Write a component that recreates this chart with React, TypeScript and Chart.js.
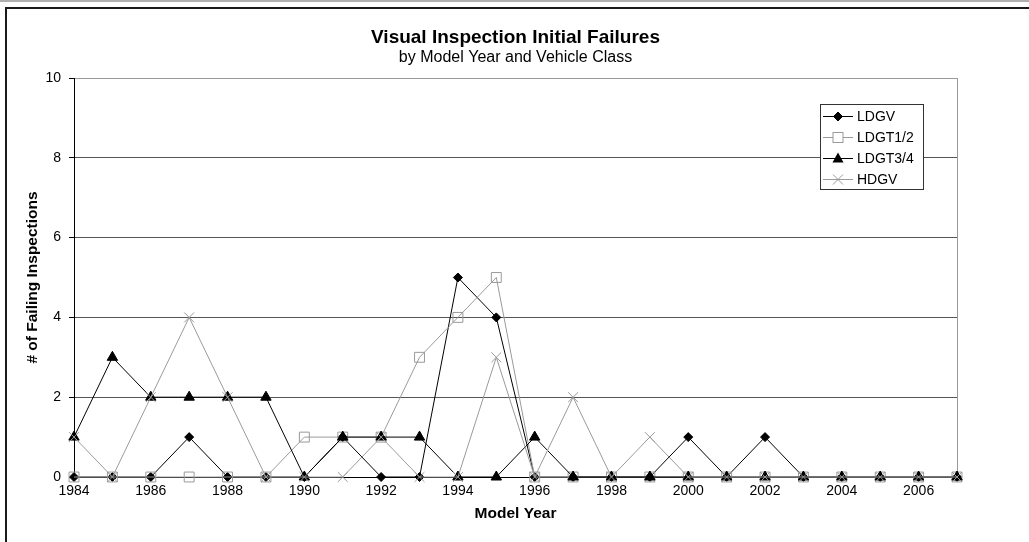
import React, { useEffect, useRef } from 'react';
import { Chart, registerables } from 'chart.js';

Chart.register(...registerables);

const years = [
  '1984', '1985', '1986', '1987', '1988', '1989', '1990', '1991', '1992', '1993', '1994', '1995',
  '1996', '1997', '1998', '1999', '2000', '2001', '2002', '2003', '2004', '2005', '2006', '2007',
];
const ldgv = [0, 0, 0, 1, 0, 0, 0, 1, 0, 0, 5, 4, 0, 0, 0, 0, 1, 0, 1, 0, 0, 0, 0, 0];
const ldgt12 = [0, 0, 0, 0, 0, 0, 1, 1, 1, 3, 4, 5, 0, 0, 0, 0, 0, 0, 0, 0, 0, 0, 0, 0];
const ldgt34 = [1, 3, 2, 2, 2, 2, 0, 1, 1, 1, 0, 0, 1, 0, 0, 0, 0, 0, 0, 0, 0, 0, 0, 0];
const hdgv = [1, 0, 2, 4, 2, 0, 0, 0, 1, 0, 0, 3, 0, 2, 0, 1, 0, 0, 0, 0, 0, 0, 0, 0];

const seriesNames = ['LDGV', 'LDGT1/2', 'LDGT3/4', 'HDGV'];
const yTicks = [0, 2, 4, 6, 8, 10];

const titleText = 'Visual Inspection Initial Failures';
const subtitleText = 'by Model Year and Vehicle Class';
const xTitle = 'Model Year';
const yTitle = '# of Failing Inspections';

const FONT = '"Liberation Sans", Arial, sans-serif';
const GRAY = '#9a9a9a';

function drawMarker(ctx: CanvasRenderingContext2D, kind: number, x: number, y: number) {
  ctx.save();
  ctx.lineWidth = 1;
  if (kind === 0) {
    ctx.fillStyle = '#000';
    ctx.beginPath();
    ctx.moveTo(x - 4.5, y);
    ctx.lineTo(x, y - 4.5);
    ctx.lineTo(x + 4.5, y);
    ctx.lineTo(x, y + 4.5);
    ctx.closePath();
    ctx.fill();
    ctx.strokeStyle = '#000';
    ctx.stroke();
  } else if (kind === 1) {
    ctx.fillStyle = '#fff';
    ctx.strokeStyle = GRAY;
    ctx.fillRect(x - 5, y - 5, 10, 10);
    ctx.strokeRect(x - 5, y - 5, 10, 10);
  } else if (kind === 2) {
    ctx.fillStyle = '#000';
    ctx.beginPath();
    ctx.moveTo(x, y - 6);
    ctx.lineTo(x + 5.5, y + 4);
    ctx.lineTo(x - 5.5, y + 4);
    ctx.closePath();
    ctx.fill();
  } else {
    ctx.strokeStyle = GRAY;
    ctx.beginPath();
    ctx.moveTo(x - 5, y - 5);
    ctx.lineTo(x + 5, y + 5);
    ctx.moveTo(x + 5, y - 5);
    ctx.lineTo(x - 5, y + 5);
    ctx.stroke();
  }
  ctx.restore();
}

const rightBorderPlugin = {
  id: 'rightBorder',
  beforeDatasetsDraw(chart: any) {
    const ctx: CanvasRenderingContext2D = chart.ctx;
    const area = chart.chartArea;
    ctx.save();
    ctx.strokeStyle = GRAY;
    ctx.lineWidth = 1;
    ctx.beginPath();
    ctx.moveTo(Math.round(area.right) + 0.5, area.top);
    ctx.lineTo(Math.round(area.right) + 0.5, area.bottom);
    ctx.stroke();
    ctx.restore();
  },
};

const decorPlugin = {
  id: 'decor',
  afterDraw(chart: any) {
    const ctx: CanvasRenderingContext2D = chart.ctx;
    const area = chart.chartArea;
    ctx.save();
    // titles
    const cx = (area.left + area.right) / 2;
    ctx.fillStyle = '#000';
    ctx.textAlign = 'center';
    ctx.textBaseline = 'middle';
    ctx.font = `bold 19px ${FONT}`;
    ctx.fillText(titleText, cx, 38);
    ctx.font = `16px ${FONT}`;
    ctx.fillText(subtitleText, cx, 58);

    // legend
    const bx = 820, by = 104, bw = 103, bh = 85;
    ctx.fillStyle = '#fff';
    ctx.fillRect(bx, by, bw, bh);
    ctx.strokeStyle = '#333';
    ctx.strokeRect(bx + 0.5, by + 0.5, bw, bh);
    const rows = [116, 137, 158, 179];
    const colors = ['#000', GRAY, '#000', GRAY];
    ctx.font = `14px ${FONT}`;
    ctx.textAlign = 'left';
    for (let i = 0; i < 4; i++) {
      const y = rows[i];
      ctx.strokeStyle = colors[i];
      ctx.beginPath();
      ctx.moveTo(823, y + 0.5);
      ctx.lineTo(853, y + 0.5);
      ctx.stroke();
      drawMarker(ctx, i, 838, y + 0.5);
      ctx.fillStyle = '#000';
      ctx.fillText(seriesNames[i], 857, y + 1);
    }
    ctx.restore();
  },
};

export default function App() {
  const canvasRef = useRef<HTMLCanvasElement | null>(null);

  useEffect(() => {
    const canvas = canvasRef.current;
    if (!canvas) return;
    const chart = new Chart(canvas, {
      type: 'line',
      data: {
        labels: years,
        datasets: [
          {
            label: seriesNames[0],
            data: ldgv,
            borderColor: '#000',
            backgroundColor: '#000',
            borderWidth: 1,
            pointStyle: 'rectRot',
            pointRadius: 4.5,
            pointBorderWidth: 1,
            pointBorderColor: '#000',
            pointBackgroundColor: '#000',
            clip: false,
            order: 4,
          },
          {
            label: seriesNames[1],
            data: ldgt12,
            borderColor: GRAY,
            backgroundColor: 'rgba(0,0,0,0)',
            borderWidth: 1,
            pointStyle: 'rect',
            pointRadius: 7,
            pointBorderWidth: 1,
            pointBorderColor: GRAY,
            pointBackgroundColor: 'rgba(0,0,0,0)',
            clip: false,
            order: 3,
          },
          {
            label: seriesNames[2],
            data: ldgt34,
            borderColor: '#000',
            backgroundColor: '#000',
            borderWidth: 1,
            pointStyle: 'triangle',
            pointRadius: 6,
            pointBorderWidth: 1,
            pointBorderColor: '#000',
            pointBackgroundColor: '#000',
            clip: false,
            order: 2,
          },
          {
            label: seriesNames[3],
            data: hdgv,
            borderColor: GRAY,
            backgroundColor: GRAY,
            borderWidth: 1,
            pointStyle: 'crossRot',
            pointRadius: 7,
            pointBorderWidth: 1,
            pointBorderColor: GRAY,
            clip: false,
            order: 1,
          },
        ],
      },
      options: {
        animation: false,
        responsive: false,
        maintainAspectRatio: false,
        layout: { padding: { left: 19, right: 72, top: 78, bottom: 15 } },
        plugins: {
          legend: { display: false },
          title: { display: false },
          tooltip: { enabled: false },
        },
        elements: { line: { tension: 0 } },
        scales: {
          x: {
            type: 'category',
            offset: false,
            grid: { display: false, drawTicks: false },
            border: { display: true, color: '#000', width: 1 },
            ticks: {
              autoSkip: false,
              maxRotation: 0,
              minRotation: 0,
              padding: 6,
              color: '#000',
              font: { family: FONT, size: 14 },
              callback: (_v: any, i: number) => (i % 2 === 0 ? years[i] : ''),
            },
            title: {
              display: true,
              text: xTitle,
              color: '#000',
              font: { family: FONT, size: 15.5, weight: 'bold' },
              padding: { top: 4, bottom: 4 },
            },
            afterFit: (s: any) => {
              s.height = 50;
            },
          },
          y: {
            min: 0,
            max: 10,
            afterBuildTicks: (s: any) => {
              s.ticks = yTicks.map((v) => ({ value: v }));
            },
            grid: {
              color: (c: any) => (c.tick && c.tick.value === 10 ? GRAY : c.tick && c.tick.value === 0 ? 'rgba(0,0,0,0)' : '#555'),
              tickColor: '#000',
              tickLength: 5,
              drawTicks: true,
            },
            border: { display: true, color: '#000', width: 1 },
            ticks: {
              padding: 8,
              color: '#000',
              font: { family: FONT, size: 14 },
            },
            title: {
              display: true,
              text: yTitle,
              color: '#000',
              font: { family: FONT, size: 15.5, weight: 'bold' },
              padding: { top: 4, bottom: 4 },
            },
            afterFit: (s: any) => {
              s.width = 55;
            },
          },
        },
      },
      plugins: [rightBorderPlugin, decorPlugin],
    } as any);
    return () => chart.destroy();
  }, []);

  return (
    <div
      style={{
        position: 'fixed',
        left: 0,
        top: 0,
        width: 1029,
        height: 542,
        overflow: 'hidden',
        background: '#fff',
      }}
    >
      <div style={{ position: 'absolute', left: 0, top: 0, width: 1029, height: 2, background: '#b0b0b0' }} />
      <div
        style={{
          position: 'absolute',
          left: 5,
          top: 7,
          width: 1100,
          height: 600,
          borderTop: '2px solid #1a1a1a',
          borderLeft: '2px solid #1a1a1a',
        }}
      />
      <canvas ref={canvasRef} width={1029} height={542} style={{ position: 'absolute', left: 0, top: 0 }} />
    </div>
  );
}
